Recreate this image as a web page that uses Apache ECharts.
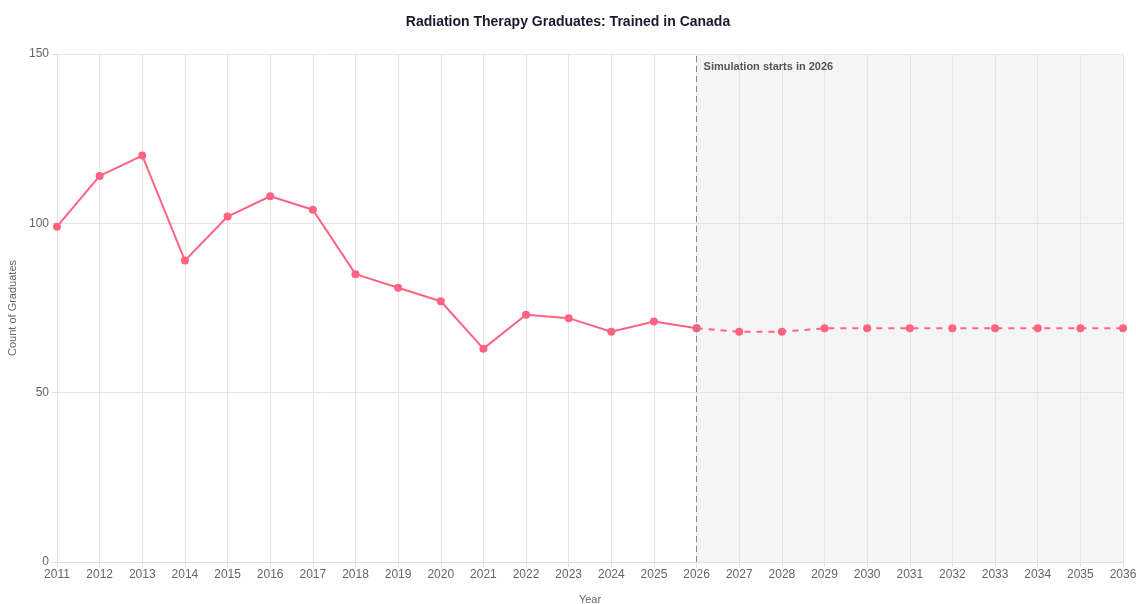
<!DOCTYPE html>
<html>
<head>
<meta charset="utf-8">
<script src="https://cdn.jsdelivr.net/npm/echarts@6/dist/echarts.min.js"></script>
<style>html,body{margin:0;padding:0;background:#fff;}#c{width:1136px;height:604px;}</style>
</head>
<body>
<div id="c"></div>
<script>
const years = ['2011','2012','2013','2014','2015','2016','2017','2018','2019','2020','2021','2022','2023','2024','2025','2026','2027','2028','2029','2030','2031','2032','2033','2034','2035','2036'];
const actual = [99,114,120,89,102,108,104,85,81,77,63,73,72,68,71,69];
const simulated = [69,68,68,69,69,69,69,69,69,69,69];
const yTicks = [0,50,100,150];
const simStart = '2026';

const actualData = years.map((y,i)=> i < actual.length ? actual[i] : null);
const simOffset = years.indexOf(simStart);
const simData = years.map((y,i)=> i >= simOffset ? simulated[i-simOffset] : null);
const color = '#ff6384';
const font = 'Liberation Sans, Arial, sans-serif';

const chart = echarts.init(document.getElementById('c'));
chart.setOption({
  animation:false,
  title:{text:'Radiation Therapy Graduates: Trained in Canada',left:'center',top:10,
    textStyle:{fontFamily:font,fontSize:14,fontWeight:'bold',color:'#1a1a2e'}},
  grid:{left:57,right:13,top:54,bottom:42,containLabel:false,outerBoundsMode:'none'},
  xAxis:{type:'category',data:years,boundaryGap:false,
    name:'Year',nameLocation:'middle',nameGap:32.5,
    nameTextStyle:{color:'#666',fontSize:11,fontFamily:font},
    axisLine:{lineStyle:{color:'#e0e0e0'}},
    axisTick:{show:true,length:5,lineStyle:{color:'#e0e0e0'}},
    axisLabel:{color:'#666',fontSize:12,margin:7,fontFamily:font,interval:0},
    splitLine:{show:true,lineStyle:{color:'#e5e5e5'}}},
  yAxis:{type:'value',min:yTicks[0],max:yTicks[yTicks.length-1],interval:50,
    name:'Count of Graduates',nameLocation:'middle',nameGap:36,
    nameTextStyle:{color:'#666',fontSize:11,fontFamily:font},
    axisLine:{show:true,lineStyle:{color:'#e0e0e0'}},
    axisTick:{show:true,length:5,lineStyle:{color:'#e0e0e0'}},
    axisLabel:{color:'#666',fontSize:12,margin:8,fontFamily:font},
    splitLine:{show:true,lineStyle:{color:'#e5e5e5'}}},
  series:[
    {name:'Actual',type:'line',data:actualData,color:color,
      symbol:'circle',symbolSize:8,lineStyle:{width:2,color:color},itemStyle:{color:color},
      markArea:{silent:true,itemStyle:{color:'rgba(230,230,230,0.4)'},
        label:{show:true,position:'insideTopLeft',distance:7,color:'#555',fontSize:11,fontWeight:'bold',fontFamily:font,formatter:'Simulation starts in '+simStart},
        data:[[{xAxis:simStart},{xAxis:years[years.length-1]}]]},
      markLine:{silent:true,symbol:'none',label:{show:false},
        lineStyle:{color:'#888',type:[6,4],width:1},
        data:[{xAxis:simStart}]}
    },
    {name:'Simulated',type:'line',data:simData,color:color,
      symbol:'circle',symbolSize:8,lineStyle:{width:2,color:color,type:[6,6]},itemStyle:{color:color}}
  ]
});
</script>
</body>
</html>
